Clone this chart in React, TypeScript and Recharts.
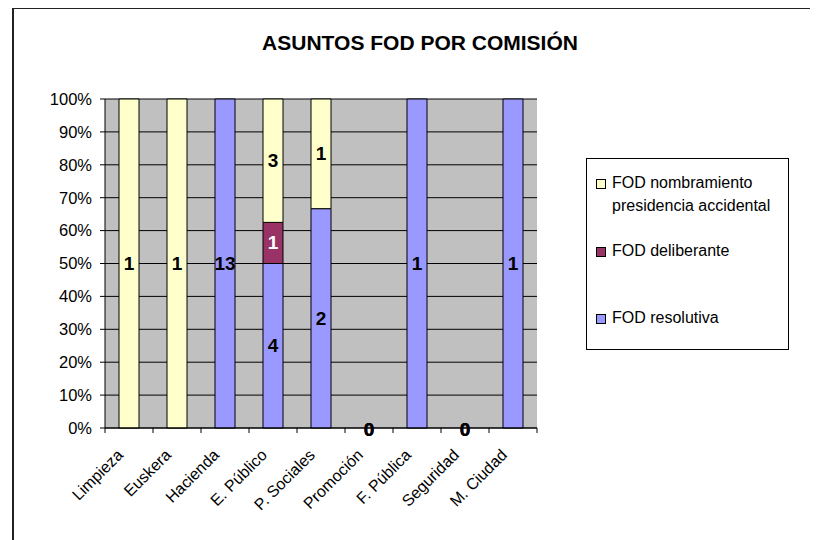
import React from "react";
import {
  Bar,
  BarChart,
  CartesianGrid,
  LabelList,
  Legend,
  XAxis,
  YAxis,
} from "recharts";

const categories = [
  "Limpieza",
  "Euskera",
  "Hacienda",
  "E. Público",
  "P. Sociales",
  "Promoción",
  "F. Pública",
  "Seguridad",
  "M. Ciudad",
];
// blank cells are null, explicit zeros are 0
const resolutiva = [null, null, 13, 4, 2, 0, 1, 0, 1];
const deliberante = [null, null, null, 1, null, 0, null, 0, null];
const nombramiento = [1, 1, null, 3, 1, 0, null, 0, null];
const yTicks = [0, 0.1, 0.2, 0.3, 0.4, 0.5, 0.6, 0.7, 0.8, 0.9, 1];

const series = [
  { key: "resolutiva", name: "FOD resolutiva", color: "#9999FF", label: "#000" },
  { key: "deliberante", name: "FOD deliberante", color: "#993366", label: "#FFF" },
  {
    key: "nombramiento",
    name: "FOD nombramiento presidencia accidental",
    color: "#FFFFCC",
    label: "#000",
  },
];

const data = categories.map((name, i) => ({
  name,
  resolutiva: resolutiva[i],
  deliberante: deliberante[i],
  nombramiento: nombramiento[i],
}));

const FONT = "'Liberation Sans', Arial, sans-serif";
const W = 810;
const H = 532;
const MARGIN = { top: 91, right: 281, bottom: 12, left: 0 };
const Y_W = 97;
const PLOT_W = W - MARGIN.left - MARGIN.right - Y_W;

const labelStyle = {
  textAnchor: "middle" as const,
  dominantBaseline: "central" as const,
  fontWeight: "bold",
  fontSize: 19,
  fontFamily: FONT,
};

const renderLabel = (color: string) => (props: any) => {
  const v = props.value;
  // zero-total columns get their "0" from the axis tick below
  if (v === null || v === undefined || v === "" || v === 0) return null;
  const vb = props.viewBox || props;
  const { x, y, width, height } = vb;
  return (
    <text x={x + width / 2} y={y + height / 2} fill={color} {...labelStyle}>
      {v}
    </text>
  );
};

const XTick = (props: any) => {
  const { x, y, payload } = props;
  const band = PLOT_W / categories.length;
  const i = categories.indexOf(payload.value);
  const last = i === categories.length - 1;
  const vals = [resolutiva[i], deliberante[i], nombramiento[i]];
  const zeroCol = vals.every((v) => v === 0);
  const tx = x - 5;
  const ty = y + 28;
  return (
    <g>
      <line x1={x - band / 2} x2={x - band / 2} y1={y} y2={y + 5} stroke="#000" />
      {last && (
        <line x1={x + band / 2} x2={x + band / 2} y1={y} y2={y + 5} stroke="#000" />
      )}
      {zeroCol &&
        vals.map((v, k) => (
          <text key={k} x={x} y={y + 1} fill="#000" {...labelStyle}>
            {v}
          </text>
        ))}
      <text
        x={tx}
        y={ty}
        transform={`rotate(-45 ${tx} ${ty})`}
        textAnchor="end"
        fontSize={16}
        fontFamily={FONT}
        fill="#000"
      >
        {payload.value}
      </text>
    </g>
  );
};

const LegendBox = () => {
  const items = [
    { s: series[2], top: 12 },
    { s: series[1], top: 80 },
    { s: series[0], top: 147 },
  ];
  return (
    <div
      style={{
        position: "relative",
        width: 203,
        height: 192,
        border: "1px solid #000",
        boxSizing: "border-box",
        background: "#fff",
        fontFamily: FONT,
        fontSize: 16,
        lineHeight: "23px",
        color: "#000",
      }}
    >
      {items.map(({ s, top }) => (
        <div key={s.key} style={{ position: "absolute", left: 9, top, display: "flex" }}>
          <span
            style={{
              display: "inline-block",
              width: 8,
              height: 8,
              marginTop: 8,
              marginRight: 6,
              border: "1px solid #000",
              background: s.color,
              flexShrink: 0,
            }}
          />
          <span style={{ width: 180 }}>{s.name}</span>
        </div>
      ))}
    </div>
  );
};

export default function App() {
  return (
    <div style={{ position: "relative", width: W, height: H }}>
      <div
        style={{
          position: "absolute",
          left: 4,
          top: -1,
          width: W,
          height: H + 10,
          borderTop: "2px solid #222",
          borderLeft: "2px solid #222",
        }}
      />
      <div
        style={{
          position: "absolute",
          left: 212,
          top: 23,
          width: 400,
          textAlign: "center",
          fontFamily: FONT,
          fontWeight: "bold",
          fontSize: 21,
          color: "#000",
        }}
      >
        ASUNTOS FOD POR COMISIÓN
      </div>
      <BarChart
        width={W}
        height={H}
        data={data}
        stackOffset="expand"
        margin={MARGIN}
        barSize={20}
        style={{ position: "absolute", left: 0, top: 0 }}
      >
        <CartesianGrid vertical={false} stroke="#000" fill="#C0C0C0" fillOpacity={1} />
        <XAxis
          dataKey="name"
          interval={0}
          tickSize={0}
          tickMargin={0}
          height={100}
          axisLine={{ stroke: "#000" }}
          tick={<XTick />}
        />
        <YAxis
          width={Y_W}
          domain={[0, 1]}
          ticks={yTicks}
          tickFormatter={(v: number) => `${Math.round(v * 100)}%`}
          axisLine={{ stroke: "#000" }}
          tickLine={{ stroke: "#000" }}
          tickSize={5}
          tickMargin={8}
          tick={{ fontSize: 16.5, fontFamily: FONT, fill: "#000" }}
        />
        <Legend
          layout="vertical"
          align="center"
          verticalAlign="middle"
          wrapperStyle={{ position: "absolute", left: 578, top: 150, width: 203, height: 192 }}
          content={() => <LegendBox />}
        />
        {series.map((s) => (
          <Bar
            key={s.key}
            dataKey={s.key}
            name={s.name}
            stackId="a"
            fill={s.color}
            stroke="#000"
            strokeWidth={1}
            isAnimationActive={false}
          >
            <LabelList dataKey={s.key} content={renderLabel(s.label)} />
          </Bar>
        ))}
      </BarChart>
    </div>
  );
}
